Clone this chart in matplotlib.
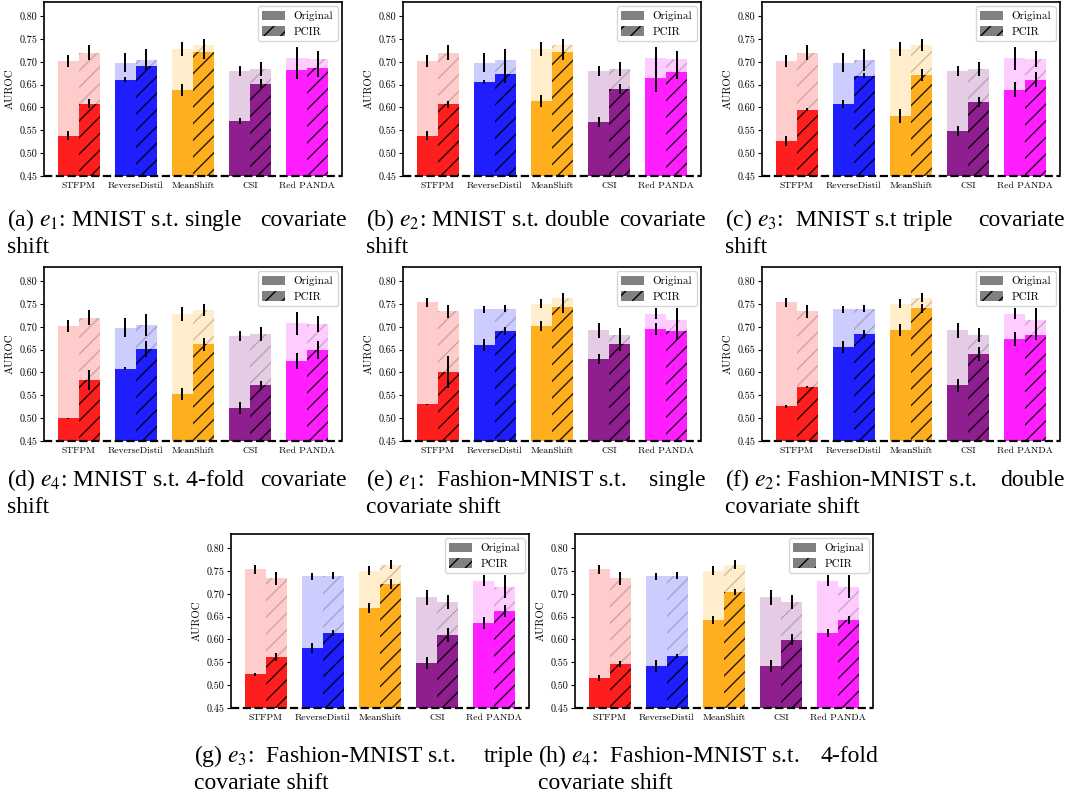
import numpy as np
import matplotlib
matplotlib.use("Agg")
import matplotlib.pyplot as plt
from matplotlib.patches import Patch

plt.rcParams['mathtext.fontset'] = 'stix'

methods = ["STFPM", "ReverseDistil", "MeanShift", "CSI", "Red PANDA"]
colors = ["red", "blue", "orange", "purple", "magenta"]

# in-distribution AUROC (light bars), same for every shift of a dataset
mnist_orig = [0.702, 0.698, 0.728, 0.680, 0.708]
mnist_orig_err = [0.013, 0.021, 0.016, 0.011, 0.025]
mnist_pcir = [0.720, 0.704, 0.737, 0.684, 0.706]
mnist_pcir_err = [0.017, 0.024, 0.014, 0.015, 0.018]

fmnist_orig = [0.754, 0.738, 0.751, 0.692, 0.729]
fmnist_orig_err = [0.010, 0.007, 0.010, 0.016, 0.012]
fmnist_pcir = [0.734, 0.740, 0.764, 0.682, 0.716]
fmnist_pcir_err = [0.014, 0.007, 0.010, 0.015, 0.025]

# AUROC under covariate shift (solid bars)
a_orig = [0.538, 0.661, 0.639, 0.571, 0.682]
a_orig_err = [0.010, 0.005, 0.013, 0.007, 0.020]
a_pcir = [0.608, 0.691, 0.722, 0.652, 0.687]
a_pcir_err = [0.010, 0.008, 0.015, 0.010, 0.020]

b_orig = [0.538, 0.656, 0.615, 0.569, 0.664]
b_orig_err = [0.010, 0.005, 0.013, 0.011, 0.030]
b_pcir = [0.607, 0.673, 0.721, 0.640, 0.678]
b_pcir_err = [0.008, 0.020, 0.018, 0.011, 0.016]

c_orig = [0.527, 0.608, 0.582, 0.549, 0.639]
c_orig_err = [0.011, 0.009, 0.015, 0.011, 0.016]
c_pcir = [0.595, 0.670, 0.672, 0.612, 0.661]
c_pcir_err = [0.003, 0.005, 0.013, 0.010, 0.016]

d_orig = [0.500, 0.608, 0.552, 0.522, 0.625]
d_orig_err = [0.001, 0.003, 0.013, 0.013, 0.018]
d_pcir = [0.583, 0.651, 0.662, 0.572, 0.649]
d_pcir_err = [0.022, 0.018, 0.014, 0.010, 0.019]

e_orig = [0.530, 0.660, 0.702, 0.629, 0.695]
e_orig_err = [0.002, 0.013, 0.011, 0.011, 0.013]
e_pcir = [0.601, 0.691, 0.744, 0.662, 0.691]
e_pcir_err = [0.035, 0.009, 0.013, 0.016, 0.020]

f_orig = [0.526, 0.656, 0.693, 0.572, 0.673]
f_orig_err = [0.003, 0.013, 0.013, 0.014, 0.015]
f_pcir = [0.568, 0.684, 0.741, 0.640, 0.682]
f_pcir_err = [0.003, 0.008, 0.010, 0.015, 0.010]

g_orig = [0.524, 0.581, 0.669, 0.549, 0.636]
g_orig_err = [0.003, 0.011, 0.011, 0.013, 0.014]
g_pcir = [0.562, 0.614, 0.722, 0.610, 0.663]
g_pcir_err = [0.008, 0.007, 0.011, 0.015, 0.013]

h_orig = [0.516, 0.542, 0.643, 0.542, 0.614]
h_orig_err = [0.007, 0.014, 0.009, 0.013, 0.009]
h_pcir = [0.546, 0.564, 0.704, 0.599, 0.643]
h_pcir_err = [0.007, 0.004, 0.007, 0.012, 0.009]

captions = [
    ("(a) $e_1$: MNIST s.t. single", "covariate", "shift"),
    ("(b) $e_2$: MNIST s.t. double", "covariate", "shift"),
    ("(c) $e_3$:  MNIST s.t triple", "covariate", "shift"),
    ("(d) $e_4$: MNIST s.t. 4-fold", "covariate", "shift"),
    ("(e) $e_1$:  Fashion-MNIST s.t.", "single", "covariate shift"),
    ("(f) $e_2$: Fashion-MNIST s.t.", "double", "covariate shift"),
    ("(g) $e_3$:  Fashion-MNIST s.t.", "triple", "covariate shift"),
    ("(h) $e_4$:  Fashion-MNIST s.t.", "4-fold", "covariate shift"),
]

panels = [
    (mnist_orig, mnist_orig_err, mnist_pcir, mnist_pcir_err, a_orig, a_orig_err, a_pcir, a_pcir_err),
    (mnist_orig, mnist_orig_err, mnist_pcir, mnist_pcir_err, b_orig, b_orig_err, b_pcir, b_pcir_err),
    (mnist_orig, mnist_orig_err, mnist_pcir, mnist_pcir_err, c_orig, c_orig_err, c_pcir, c_pcir_err),
    (mnist_orig, mnist_orig_err, mnist_pcir, mnist_pcir_err, d_orig, d_orig_err, d_pcir, d_pcir_err),
    (fmnist_orig, fmnist_orig_err, fmnist_pcir, fmnist_pcir_err, e_orig, e_orig_err, e_pcir, e_pcir_err),
    (fmnist_orig, fmnist_orig_err, fmnist_pcir, fmnist_pcir_err, f_orig, f_orig_err, f_pcir, f_pcir_err),
    (fmnist_orig, fmnist_orig_err, fmnist_pcir, fmnist_pcir_err, g_orig, g_orig_err, g_pcir, g_pcir_err),
    (fmnist_orig, fmnist_orig_err, fmnist_pcir, fmnist_pcir_err, h_orig, h_orig_err, h_pcir, h_pcir_err),
]

W, H = 1070, 794
fig = plt.figure(figsize=(W / 100, H / 100), dpi=100)

# axes boxes in pixels: left, top ; caption column left, right, first baseline
boxes = [
    (44, 2, 7, 347, 226), (403, 2, 366, 706, 226), (762, 2, 725, 1065, 226),
    (44, 267, 7, 347, 486), (403, 267, 366, 706, 486), (762, 267, 725, 1065, 486),
    (231, 534, 194, 534, 762), (575, 534, 538, 878, 762),
]
aw, ah = 298, 174

x = np.arange(len(methods))
w = 0.37
ticks = [0.45, 0.50, 0.55, 0.60, 0.65, 0.70, 0.75, 0.80]

for (lx, ty, cl, cr, cy), p, cap in zip(boxes, panels, captions):
    ax = fig.add_axes([lx / W, 1 - (ty + ah) / H, aw / W, ah / H])
    id_o, id_o_e, id_p, id_p_e, sh_o, sh_o_e, sh_p, sh_p_e = p
    ax.bar(x - w / 2, id_o, w, color=colors, alpha=0.2, linewidth=0)
    ax.bar(x + w / 2, id_p, w, color=colors, alpha=0.2, linewidth=0,
           hatch='//', edgecolor='black')
    ax.bar(x - w / 2, sh_o, w, color=colors, alpha=0.85, linewidth=0)
    ax.bar(x + w / 2, sh_p, w, color=colors, alpha=0.85, linewidth=0,
           hatch='//', edgecolor='black')
    for xs, ys, es in [(x - w / 2, id_o, id_o_e), (x + w / 2, id_p, id_p_e),
                       (x - w / 2, sh_o, sh_o_e), (x + w / 2, sh_p, sh_p_e)]:
        ax.errorbar(xs, ys, yerr=es, fmt='none', ecolor='black', elinewidth=1.4,
                    capsize=0, zorder=5)
    ax.set_ylim(0.45, 0.831)
    ax.set_yticks(ticks, [f"{t:.2f}" for t in ticks], fontsize=7.3, family='cmr10')
    ax.set_xticks(x, methods, fontsize=7, family='cmr10')
    ax.tick_params(axis='x', length=0, pad=4)
    ax.tick_params(axis='y', length=3, pad=2)
    ax.set_ylabel("AUROC", fontsize=7.8, family='cmr10', labelpad=3)
    ax.spines['bottom'].set_visible(False)
    for s in ['top', 'right', 'left']:
        ax.spines[s].set_linewidth(1.2)
    ax.axhline(0.45, color='black', ls='--', lw=1.6, clip_on=False, zorder=6)
    handles = [Patch(facecolor='gray', label='Original'),
               Patch(facecolor='gray', hatch='//', edgecolor='black', linewidth=0, label='PCIR')]
    ax.legend(handles=handles, loc='upper right', prop={'family': 'cmr10', 'size': 8},
              handlelength=2.0, handleheight=0.9, handletextpad=0.8,
              borderaxespad=0.4, labelspacing=0.45)

    first, last, second = cap
    fig.text(cl / W, 1 - cy / H, first, ha='left', va='baseline', fontsize=17,
             family='Liberation Serif')
    fig.text(cr / W, 1 - cy / H, last, ha='right', va='baseline', fontsize=17,
             family='Liberation Serif')
    fig.text(cl / W, 1 - (cy + 27) / H, second, ha='left', va='baseline', fontsize=17,
             family='Liberation Serif')

fig.savefig("out.png", dpi=100)
